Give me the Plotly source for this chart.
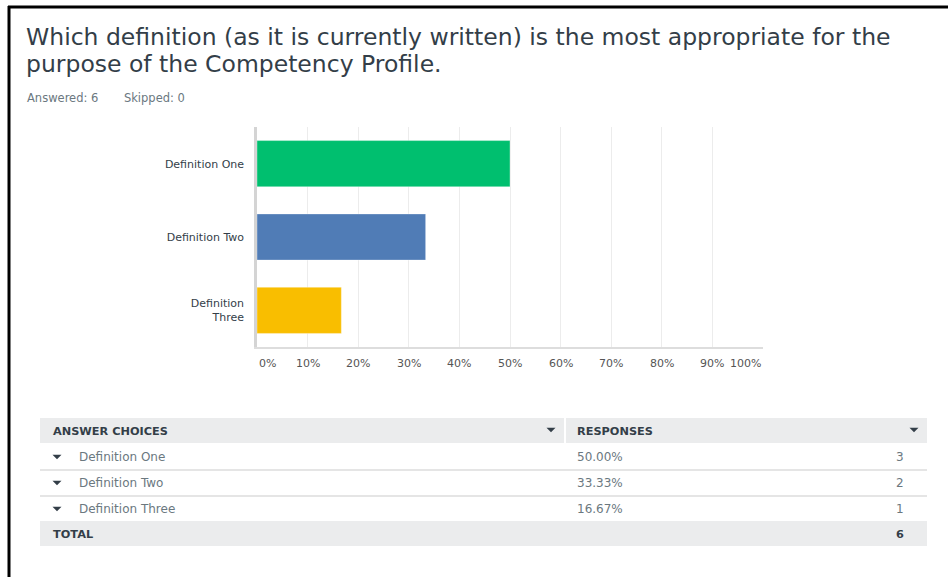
import plotly.graph_objects as go

# ---- data ----
categories = ["Definition One", "Definition Two", "Definition Three"]
cat_labels = ["Definition One", "Definition Two", "Definition<br>Three"]
percent_values = [50.00, 33.33, 16.67]
response_counts = [3, 2, 1]
bar_colors = ["#00bf6f", "#507cb6", "#f9be00"]
x_tick_values = [0, 10, 20, 30, 40, 50, 60, 70, 80, 90, 100]
x_tick_labels = [f"{v}%" for v in x_tick_values]
title_lines = ["Which definition (as it is currently written) is the most appropriate for the",
               "purpose of the Competency Profile."]
answered, skipped = 6, 0
table_headers = ["ANSWER CHOICES", "RESPONSES"]
total_label = "TOTAL"

# ---- layout geometry (pixels) ----
W_PX, H_PX = 948, 577
L, R, T, B = 257, 763, 127, 347
PW, PH = R - L, B - T
FONT = "DejaVu Sans"
DARK = "#333e48"
GRAY = "#6b787f"


def px(x):
    return (x - L) / PW


def py(y):
    return (B - y) / PH


fig = go.Figure()
fig.add_trace(go.Bar(
    y=categories,
    x=percent_values,
    orientation="h",
    marker=dict(color=bar_colors, line=dict(color="rgba(255,255,255,0.35)", width=1)),
    width=0.63,
    hoverinfo="skip",
))

shapes = []
annotations = []

# frame border lines
shapes.append(dict(type="line", xref="paper", yref="paper", x0=px(8), x1=px(948), y0=py(7), y1=py(7),
                   line=dict(color="#000", width=3)))
shapes.append(dict(type="line", xref="paper", yref="paper", x0=px(9), x1=px(9), y0=py(6), y1=py(577),
                   line=dict(color="#000", width=3)))

# title and meta
for line, ty in zip(title_lines, (37, 64)):
    annotations.append(dict(text=line, xref="paper", yref="paper", x=px(24), y=py(ty),
                            xanchor="left", yanchor="middle", showarrow=False, align="left",
                            font=dict(family=FONT, size=23.5, color=DARK)))
annotations.append(dict(text=f"Answered: {answered}&nbsp;&nbsp;&nbsp;&nbsp;&nbsp;&nbsp;&nbsp;Skipped: {skipped}",
                        xref="paper", yref="paper", x=px(25), y=py(98),
                        xanchor="left", yanchor="middle", showarrow=False,
                        font=dict(family=FONT, size=11.5, color=GRAY)))

# x tick labels (0% left-aligned, 100% right-aligned, like the reference)
for v, lab in zip(x_tick_values, x_tick_labels):
    anchor = "left" if v == x_tick_values[0] else ("right" if v == x_tick_values[-1] else "center")
    annotations.append(dict(text=lab, xref="x", yref="paper", x=v, y=py(363),
                            xanchor=anchor, yanchor="middle", showarrow=False,
                            font=dict(family=FONT, size=11, color="#555")))

# table
TX0, TX1 = 40, 927
shapes.append(dict(type="rect", xref="paper", yref="paper", x0=px(TX0), x1=px(564), y0=py(418), y1=py(443),
                   fillcolor="#ebeced", line=dict(width=0), layer="below"))
shapes.append(dict(type="rect", xref="paper", yref="paper", x0=px(566), x1=px(TX1), y0=py(418), y1=py(443),
                   fillcolor="#ebeced", line=dict(width=0), layer="below"))
shapes.append(dict(type="rect", xref="paper", yref="paper", x0=px(TX0), x1=px(TX1), y0=py(521), y1=py(546),
                   fillcolor="#ebeced", line=dict(width=0), layer="below"))
for sy in (470, 496):
    shapes.append(dict(type="line", xref="paper", yref="paper", x0=px(TX0), x1=px(TX1), y0=py(sy), y1=py(sy),
                       line=dict(color="#dcdcdc", width=1.5)))


def tri(cx, cy, w=9, h=4.5, color="#333e48"):
    path = (f"M {px(cx - w / 2)} {py(cy - h / 2)} L {px(cx + w / 2)} {py(cy - h / 2)} "
            f"L {px(cx)} {py(cy + h / 2)} Z")
    return dict(type="path", xref="paper", yref="paper", path=path, fillcolor=color,
                line=dict(width=0))


annotations.append(dict(text=f"<b>{table_headers[0]}</b>", xref="paper", yref="paper", x=px(51), y=py(431),
                        xanchor="left", yanchor="middle", showarrow=False,
                        font=dict(family=FONT, size=11.3, color=DARK)))
annotations.append(dict(text=f"<b>{table_headers[1]}</b>", xref="paper", yref="paper", x=px(575), y=py(431),
                        xanchor="left", yanchor="middle", showarrow=False,
                        font=dict(family=FONT, size=11.3, color=DARK)))
shapes.append(tri(551, 430))
shapes.append(tri(914, 430))

row_y = [457, 483, 509]
for cat, pct, cnt, ry in zip(categories, percent_values, response_counts, row_y):
    shapes.append(tri(57, ry))
    annotations.append(dict(text=cat, xref="paper", yref="paper", x=px(77), y=py(ry),
                            xanchor="left", yanchor="middle", showarrow=False,
                            font=dict(family=FONT, size=12, color=GRAY)))
    annotations.append(dict(text=f"{pct:.2f}%", xref="paper", yref="paper", x=px(575), y=py(ry),
                            xanchor="left", yanchor="middle", showarrow=False,
                            font=dict(family=FONT, size=12, color=GRAY)))
    annotations.append(dict(text=str(cnt), xref="paper", yref="paper", x=px(906), y=py(ry),
                            xanchor="right", yanchor="middle", showarrow=False,
                            font=dict(family=FONT, size=12, color=GRAY)))

annotations.append(dict(text=f"<b>{total_label}</b>", xref="paper", yref="paper", x=px(51), y=py(534),
                        xanchor="left", yanchor="middle", showarrow=False,
                        font=dict(family=FONT, size=11.3, color=DARK)))
annotations.append(dict(text=f"<b>{sum(response_counts)}</b>", xref="paper", yref="paper", x=px(906), y=py(534),
                        xanchor="right", yanchor="middle", showarrow=False,
                        font=dict(family=FONT, size=11.3, color=DARK)))

fig.update_layout(
    width=W_PX, height=H_PX,
    margin=dict(l=L, r=W_PX - R, t=T, b=H_PX - B, pad=0),
    paper_bgcolor="white", plot_bgcolor="white",
    showlegend=False,
    bargap=0.37,
    xaxis=dict(range=[0, 100], tickvals=x_tick_values, showticklabels=False,
               showgrid=True, gridcolor="#ececec", gridwidth=1,
               zeroline=False, showline=True, linecolor="#dddddd", linewidth=1.5,
               fixedrange=True),
    yaxis=dict(categoryorder="array", categoryarray=categories, autorange="reversed",
               tickvals=categories, ticktext=cat_labels,
               tickfont=dict(family=FONT, size=11, color=DARK),
               ticks="outside", ticklen=8, tickcolor="rgba(0,0,0,0)",
               showline=True, linecolor="#d4d4d4", linewidth=2.5,
               showgrid=False, zeroline=False, fixedrange=True),
    shapes=shapes,
    annotations=annotations,
)

fig.write_html("out.html", config={"displayModeBar": False})
